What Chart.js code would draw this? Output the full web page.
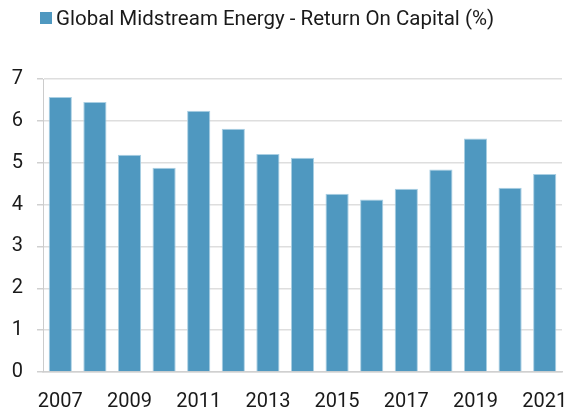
<!DOCTYPE html>
<html>
<head>
<meta charset="utf-8">
<script src="https://cdn.jsdelivr.net/npm/chart.js@4/dist/chart.umd.min.js"></script>
<style>
  html, body { margin: 0; padding: 0; background: #fff; }
  #wrap { width: 568px; height: 413px; }
</style>
</head>
<body>
<div id="wrap"><canvas id="chart" width="568" height="413"></canvas></div>
<script>
const years = ['2007','2008','2009','2010','2011','2012','2013','2014','2015','2016','2017','2018','2019','2020','2021'];
const returnOnCapital = [6.57, 6.45, 5.19, 4.88, 6.24, 5.81, 5.21, 5.12, 4.26, 4.12, 4.38, 4.84, 5.58, 4.40, 4.73];
const seriesName = 'Global Midstream Energy - Return On Capital (%)';
const yTicks = [0, 1, 2, 3, 4, 5, 6, 7];

const barColor = '#4f98c0';
const fontFamily = 'Roboto, "Liberation Sans", sans-serif';

// draws the single legend entry above the plot
const legendPlugin = {
  id: 'topLegend',
  afterDraw(chart) {
    const ctx = chart.ctx;
    ctx.save();
    ctx.fillStyle = barColor;
    ctx.fillRect(40, 12, 12, 12);
    ctx.fillStyle = '#1a1a1a';
    ctx.font = '20.5px ' + fontFamily;
    ctx.textBaseline = 'alphabetic';
    ctx.fillText(seriesName, 56, 25);
    ctx.restore();
  }
};

const data = {
  labels: years,
  datasets: [{
    label: seriesName,
    data: returnOnCapital,
    backgroundColor: barColor,
    borderColor: '#a9cfe3',
    borderWidth: 1,
    categoryPercentage: 1,
    barPercentage: 0.67
  }]
};

const config = {
  type: 'bar',
  data: data,
  plugins: [legendPlugin],
  options: {
    responsive: false,
    animation: false,
    layout: { padding: { top: 79, left: 12, right: 6, bottom: 0 } },
    plugins: {
      legend: { display: false },
      tooltip: { enabled: false }
    },
    scales: {
      x: {
        grid: { display: false },
        border: { display: true, color: '#d0d0d0', width: 1.5 },
        afterFit: (axis) => { axis.height = 41; axis.paddingLeft = 0; axis.paddingRight = 0; },
        ticks: {
          autoSkip: false,
          maxRotation: 0,
          color: '#1a1a1a',
          padding: 10,
          font: { family: fontFamily, size: 20 },
          callback: function(val, i) { return i % 2 === 0 ? this.getLabelForValue(val) : ''; }
        }
      },
      y: {
        min: 0,
        max: 7,
        afterBuildTicks: (axis) => { axis.ticks = yTicks.map(v => ({ value: v })); },
        afterFit: (axis) => { axis.width = 31; axis.paddingTop = 0; axis.paddingBottom = 0; },
        grid: { color: '#dedede', lineWidth: 1.5, tickLength: 6, tickColor: '#d0d0d0' },
        border: { display: true, color: '#cccccc', width: 1 },
        ticks: {
          color: '#1a1a1a',
          padding: 14,
          font: { family: fontFamily, size: 20 }
        }
      }
    }
  }
};

let ctx = document.getElementById('chart').getContext('2d');
new Chart(ctx, config);
</script>
</body>
</html>
